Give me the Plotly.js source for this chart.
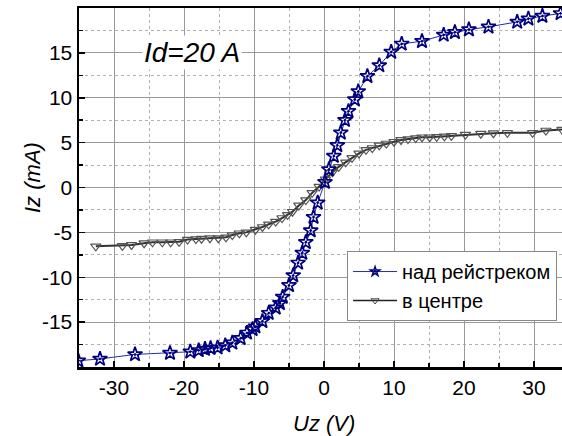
<!DOCTYPE html>
<html>
<head>
<meta charset="utf-8">
<script src="https://cdn.plot.ly/plotly-3.0.1.min.js"></script>
<style>html,body{margin:0;padding:0;background:#fff;}#plot{width:562px;height:436px;}</style>
</head>
<body>
<div id="plot"></div>
<script>
// Series "над рейстреком" (stars)
const starX = [-35.1, -32.0, -27.0, -22.0, -19.1, -17.9, -17.0, -16.2, -15.2, -14.1, -13.1, -11.9, -11.0, -10.2, -9.8, -8.8, -7.9, -6.9, -6.3, -5.9, -5.0, -4.4, -3.7, -3.1, -2.6, -1.9, -1.5, -0.9, 0.14, 0.7, 1.4, 1.9, 2.4, 3.0, 3.5, 4.4, 4.9, 6.2, 7.9, 9.6, 11.1, 14.0, 17.1, 18.7, 20.7, 23.5, 27.6, 29.2, 31.2, 33.8];
const starY = [-19.3, -19.1, -18.6, -18.45, -18.3, -18.15, -18.0, -17.9, -17.85, -17.6, -17.3, -16.8, -16.2, -15.8, -15.5, -14.9, -14.0, -13.4, -12.9, -12.2, -10.9, -9.8, -8.4, -7.3, -6.1, -4.8, -3.3, -1.7, 0.6, 2.0, 3.5, 4.7, 6.1, 7.5, 8.5, 9.8, 10.7, 12.4, 13.6, 15.1, 16.0, 16.3, 17.0, 17.3, 17.6, 17.9, 18.45, 18.8, 19.1, 19.4];
// Series "в центре" (triangles)
const triX = [-32.6, -28.8, -27.5, -25.7, -24.5, -23.1, -21.9, -20.7, -19.5, -18.3, -17.5, -16.3, -15.1, -14.0, -13.1, -12.1, -11.1, -9.8, -8.8, -7.9, -6.9, -6.0, -5.2, -4.5, -3.6, -2.6, -1.7, -0.7, 0.2, 1.2, 2.1, 3.1, 4.0, 5.0, 6.0, 6.9, 7.9, 8.9, 10.0, 11.0, 12.0, 13.1, 14.0, 15.1, 16.1, 17.2, 18.2, 20.2, 22.4, 24.2, 26.2, 29.8, 31.7, 34.0];
const triY = [-6.55, -6.5, -6.4, -6.2, -6.1, -6.1, -6.1, -6.05, -5.8, -5.75, -5.7, -5.65, -5.65, -5.55, -5.3, -5.1, -5.0, -4.7, -4.4, -4.1, -3.8, -3.4, -3.05, -2.7, -2.0, -1.4, -0.6, 0.1, 0.9, 1.7, 2.3, 2.8, 3.3, 3.8, 4.2, 4.4, 4.7, 4.9, 5.1, 5.3, 5.4, 5.5, 5.6, 5.6, 5.65, 5.7, 5.75, 5.9, 6.0, 6.05, 6.1, 6.1, 6.35, 6.45];
const seriesNames = ["над рейстреком", "в центре"];
const xTicks = [-30, -20, -10, 0, 10, 20, 30];
const yTicks = [-15, -10, -5, 0, 5, 10, 15];

const font = "Liberation Sans, Arial, sans-serif";
const starLine = {color: '#2a2aa8', width: 1};
const triLine = {color: '#333333', width: 2};

const traces = [
  {
    x: triX, y: triY, name: seriesNames[1], type: 'scatter', mode: 'lines+markers', showlegend: false,
    line: triLine,
    marker: {symbol: 'triangle-down-open', size: 9, color: '#555555', line: {width: 1.2}}
  },
  {
    x: starX, y: starY, name: seriesNames[0], type: 'scatter', mode: 'lines+markers', showlegend: false,
    line: starLine,
    marker: {symbol: 'star-open-dot', size: 11, color: '#00007f', line: {width: 1.7}}
  },
  // legend entries (smaller symbols as in the reference legend)
  {
    x: [null], y: [null], name: seriesNames[0], type: 'scatter', mode: 'lines+markers',
    line: starLine, marker: {symbol: 'star-open-dot', size: 7, color: '#00007f', line: {width: 1.5}}
  },
  {
    x: [null], y: [null], name: seriesNames[1], type: 'scatter', mode: 'lines+markers',
    line: {color: '#222', width: 1.5}, marker: {symbol: 'triangle-down-open', size: 7, color: '#444', line: {width: 1}}
  }
];

const gridMinor = {showgrid: true, gridcolor: '#b0b0b0', griddash: 'dot', gridwidth: 1, ticks: 'inside', ticklen: 4, tickcolor: '#000', tickwidth: 1.5};

const layout = {
  width: 562, height: 436,
  margin: {l: 79, r: 0, t: 8, b: 69, autoexpand: false},
  paper_bgcolor: '#fff', plot_bgcolor: '#fff',
  showlegend: true,
  legend: {
    x: 0.555, y: 0.323, xanchor: 'left', yanchor: 'top',
    bgcolor: '#fff', bordercolor: '#888', borderwidth: 1,
    font: {family: font, size: 20, color: '#000'},
    itemwidth: 44, tracegroupgap: 0
  },
  xaxis: {
    range: [-35, 34], tickvals: xTicks, ticktext: xTicks.map(String),
    showline: true, linecolor: '#000', linewidth: 2.5, mirror: true,
    ticks: 'inside', ticklen: 6, tickwidth: 1.5, tickcolor: '#000',
    showgrid: true, gridcolor: '#999', gridwidth: 1, zeroline: false,
    minor: Object.assign({dtick: 5, tick0: 0}, gridMinor),
    tickfont: {family: font, size: 21, color: '#000'}
  },
  yaxis: {
    range: [-20, 20], tickvals: yTicks, ticktext: yTicks.map(String),
    showline: true, linecolor: '#000', linewidth: 2.5,
    ticks: 'inside', ticklen: 6, tickwidth: 1.5, tickcolor: '#000',
    showgrid: true, gridcolor: '#999', gridwidth: 1, zeroline: false,
    minor: Object.assign({dtick: 2.5, tick0: 0}, gridMinor),
    tickfont: {family: font, size: 21, color: '#000'}
  },
  annotations: [
    {
      x: -18.9, y: 15, xref: 'x', yref: 'y', text: '<i>Id=20 A</i>', showarrow: false,
      font: {family: font, size: 28, color: '#000'}, bgcolor: '#fff', borderpad: 1
    },
    {
      x: 0.507, y: 0, xref: 'paper', yref: 'paper', yanchor: 'middle', text: '<i>Uz (V)</i>', showarrow: false,
      font: {family: font, size: 22, color: '#000'}
    },
    {
      x: 0, y: 0.5, xref: 'paper', yref: 'paper', text: '<i>Iz (mA)</i>', showarrow: false, textangle: -90,
      font: {family: font, size: 22, color: '#000'}
    }
  ]
};
// convert pixel-based title positions into paper coordinates
const plotW = 562 - 79, plotH = 436 - 8 - 69;
layout.annotations[1].y = (367 - 423) / plotH;
layout.annotations[2].x = (18.5 - 79) / plotW;
layout.annotations[2].y = (367 - 178) / plotH;

Plotly.newPlot('plot', traces, layout, {displayModeBar: false, staticPlot: true});
</script>
</body>
</html>
